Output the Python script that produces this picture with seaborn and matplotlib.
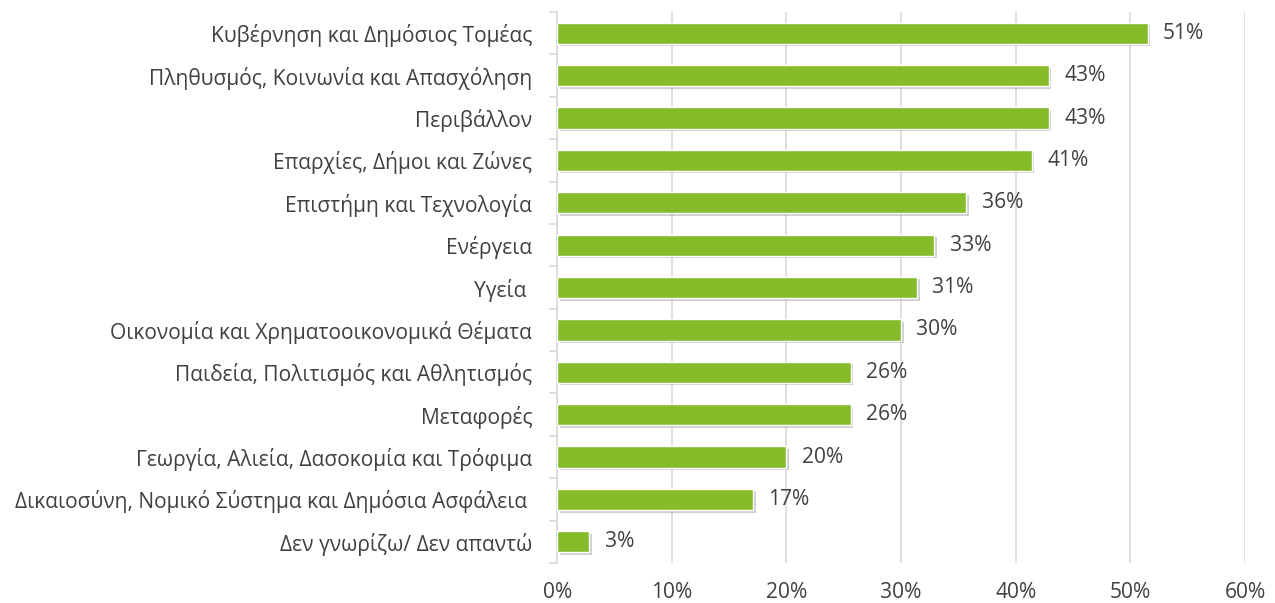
import matplotlib
matplotlib.use("Agg")
import matplotlib.pyplot as plt
import matplotlib.patheffects as pe
from matplotlib.ticker import FixedLocator
import seaborn as sns
import pandas as pd

categories = [
    "Κυβέρνηση και Δημόσιος Τομέας",
    "Πληθυσμός, Κοινωνία και Απασχόληση",
    "Περιβάλλον",
    "Επαρχίες, Δήμοι και Ζώνες",
    "Επιστήμη και Τεχνολογία",
    "Ενέργεια",
    "Υγεία ",
    "Οικονομία και Χρηματοοικονομικά Θέματα",
    "Παιδεία, Πολιτισμός και Αθλητισμός",
    "Μεταφορές",
    "Γεωργία, Αλιεία, Δασοκομία και Τρόφιμα",
    "Δικαιοσύνη, Νομικό Σύστημα και Δημόσια Ασφάλεια ",
    "Δεν γνωρίζω/ Δεν απαντώ",
]
values = [51.5, 42.9, 42.9, 41.4, 35.7, 32.9, 31.4, 30.0, 25.6, 25.6, 20.0, 17.1, 2.8]
value_labels = ["51%", "43%", "43%", "41%", "36%", "33%", "31%", "30%", "26%", "26%", "20%", "17%", "3%"]
xticks = [0, 10, 20, 30, 40, 50, 60]

sns.set_theme(style="white")
plt.rcParams["font.family"] = ["Open Sans", "DejaVu Sans"]

text_color = "#404040"
grid_color = "#d9d9d9"
bar_color = "#86bc29"
fs = 15.1

df = pd.DataFrame({"cat": categories, "val": values})

fig = plt.figure(figsize=(12.75, 6.03), dpi=100)
ax = fig.add_axes([0.437, 0.0663, 0.9765 - 0.437, 0.980 - 0.0663])

sns.barplot(data=df, x="val", y="cat", orient="h", color=bar_color,
            width=0.5, saturation=1, ax=ax, zorder=3)

for p in ax.patches:
    p.set_path_effects([pe.SimplePatchShadow(offset=(1.8, -1.8), alpha=0.3, shadow_rgbFace="#666666"), pe.Normal()])

ax.set_xlim(0, 60)
ax.set_ylim(12.5, -0.5)
ax.set_xticks(xticks)
ax.set_xticklabels([f"{t}%" for t in xticks])
ax.xaxis.grid(True, color=grid_color, linewidth=1.2, zorder=0)
ax.set_axisbelow(True)

for s in ["top", "right", "bottom"]:
    ax.spines[s].set_visible(False)
ax.spines["left"].set_color(grid_color)
ax.spines["left"].set_linewidth(1.2)

ax.set_xlabel("")
ax.set_ylabel("")
ax.tick_params(axis="x", length=0, pad=14, labelsize=fs, labelcolor=text_color)
ax.tick_params(axis="y", which="major", length=0, pad=18, labelsize=fs, labelcolor=text_color)
ax.yaxis.set_minor_locator(FixedLocator([i - 0.5 for i in range(len(categories) + 1)]))
ax.tick_params(axis="y", which="minor", left=True, length=6, width=1.2, color=grid_color)

for i, (v, lab) in enumerate(zip(values, value_labels)):
    ax.annotate(lab, xy=(v, i), xytext=(11, 0), textcoords="offset points",
                va="center", ha="left", fontsize=fs, color=text_color)

fig.savefig("out.png", dpi=100, facecolor="white")
